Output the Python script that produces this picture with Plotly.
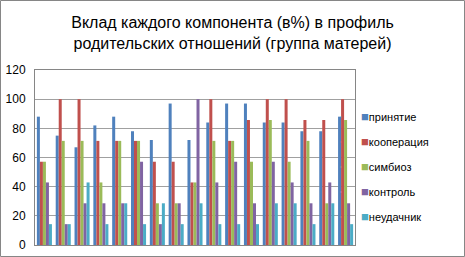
import plotly.graph_objects as go

groups = [str(i) for i in range(1, 18)]
prinyatie = [88, 75, 67, 82, 88, 78, 72, 97, 72, 84, 97, 97, 84, 84, 78, 78, 88]
kooperaciya = [57.1, 100, 100, 71.4, 71.4, 71.4, 57.1, 57.1, 42.9, 100, 71.4, 85.7, 100, 100, 85.7, 85.7, 100]
simbioz = [57.1, 71.4, 71.4, 42.9, 71.4, 71.4, 28.6, 28.6, 42.9, 71.4, 71.4, 57.1, 85.7, 57.1, 71.4, 28.6, 85.7]
kontrol = [42.9, 14.3, 28.6, 28.6, 28.6, 57.1, 14.3, 28.6, 100, 42.9, 57.1, 28.6, 57.1, 42.9, 28.6, 42.9, 28.6]
neudachnik = [14.3, 14.3, 42.9, 14.3, 28.6, 14.3, 28.6, 14.3, 28.6, 14.3, 14.3, 14.3, 28.6, 28.6, 14.3, 28.6, 14.3]

series_names = ["принятие", "кооперация", "симбиоз", "контроль", "неудачник"]
series_values = [prinyatie, kooperaciya, simbioz, kontrol, neudachnik]
colors = ["#4F81BD", "#C0504D", "#9BBB59", "#8064A2", "#4BACC6"]
y_ticks = [0, 20, 40, 60, 80, 100, 120]

fig = go.Figure()
for name, vals, col in zip(series_names, series_values, colors):
    fig.add_trace(go.Bar(x=groups, y=vals, name=name, marker_color=col,
                         marker_line_width=0, showlegend=False))
# legend entries: coloured square glyph + label
for name, col in zip(series_names, colors):
    fig.add_trace(go.Scatter(x=[None], y=[None], mode="markers",
                             marker=dict(opacity=0, size=1),
                             name=f"<span style='color:{col};font-size:13px'>■</span>{name}",
                             legendgroup=name, showlegend=True, hoverinfo="skip"))

W, H = 465, 257
ml, mr, mt, mb = 35, 110, 70, 12
pw, ph = W - ml - mr, H - mt - mb

fig.update_layout(
    width=W, height=H,
    margin=dict(l=ml, r=mr, t=mt, b=mb, autoexpand=False),
    paper_bgcolor="white", plot_bgcolor="white",
    barmode="group", bargap=0.2, bargroupgap=0,
    font=dict(family="Liberation Sans, Arial, sans-serif", size=11, color="#000000"),
    title=dict(text="Вклад каждого компонента (в%) в профиль<br>родительских отношений (группа матерей)",
               x=0.5, xref="container", xanchor="center", y=0.89, yref="container", yanchor="top",
               font=dict(size=16, color="#000000")),
    legend=dict(x=(321 - ml) / pw, xanchor="left", y=(245 - 167) / ph, yanchor="middle",
                font=dict(size=11), tracegroupgap=6, itemwidth=30,
                bgcolor="rgba(0,0,0,0)"),
    showlegend=True,
)
fig.update_xaxes(showticklabels=False, ticks="", showgrid=False, automargin=False,
                 showline=True, linecolor="#868686", linewidth=1, mirror=True)
fig.update_yaxes(range=[0, 120], tickvals=y_ticks, showgrid=True, gridcolor="#A0A0A0",
                 gridwidth=1, showline=True, linecolor="#868686", linewidth=1, mirror=True,
                 ticks="", ticklen=0, zeroline=False, tickfont=dict(size=12),
                 automargin=False, ticklabelstandoff=6)

fig.add_shape(type="rect", xref="paper", yref="paper",
              x0=(0.5 - ml) / pw, x1=(W - 0.5 - ml) / pw,
              y0=(-(mb - 0.5)) / ph, y1=(H - 0.5 - mb) / ph,
              line=dict(color="#868686", width=1), fillcolor="rgba(0,0,0,0)", layer="below")

fig.write_html("out.html", config={"displayModeBar": False},
               post_script="document.body.style.margin='0';")
